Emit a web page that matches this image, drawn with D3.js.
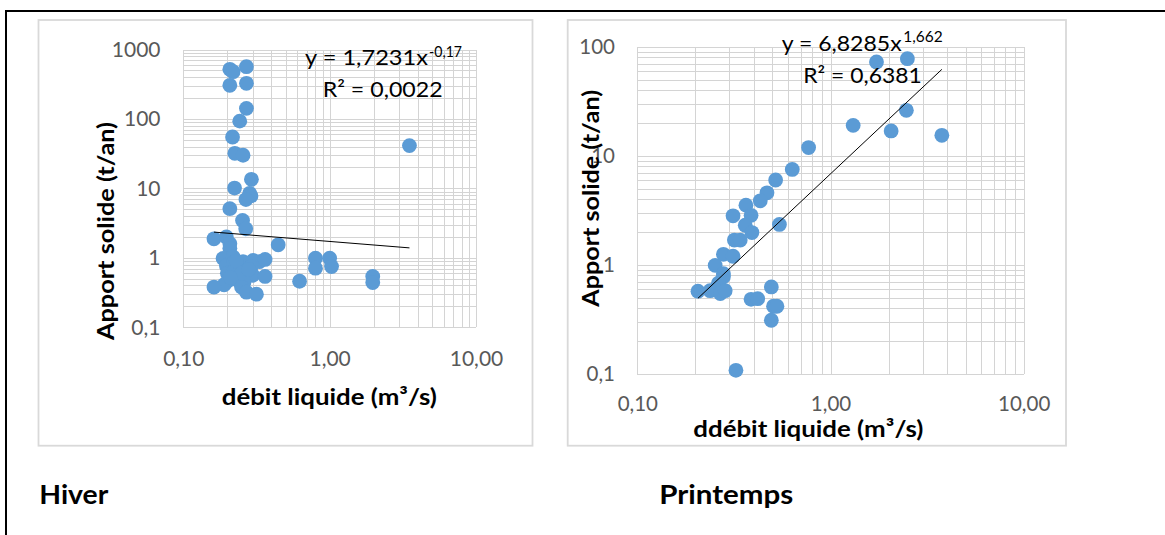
<!DOCTYPE html>
<html>
<head>
<meta charset="utf-8">
<script src="https://cdn.jsdelivr.net/npm/d3@7"></script>
<style>
  html, body { margin: 0; padding: 0; background: #fff; }
  svg { display: block; }
  text { font-family: Lato, "Open Sans", "Liberation Sans", sans-serif; }
</style>
</head>
<body>
<svg id="fig" width="1165" height="535"></svg>
<script>
// ---- Hiver : débit liquide (m³/s) et apport solide (t/an) ----
const hiverDebit = [
  0.208, 0.219, 0.27, 0.208, 0.27, 0.27, 0.243, 0.217, 0.225, 0.256,
  0.292, 0.224, 0.284, 0.29, 0.268, 0.208, 0.254, 0.267,
  0.162, 0.197, 0.208, 0.208, 0.445,
  0.187, 0.219, 0.256, 0.30, 0.33, 0.362, 0.197, 0.22, 0.24, 0.29,
  0.20, 0.219, 0.27, 0.298, 0.362, 0.237, 0.203, 0.26, 0.19, 0.162,
  0.25, 0.27, 0.316, 0.23, 0.25, 0.28, 0.21,
  0.623, 0.80, 1.0, 0.80, 1.03, 1.97, 1.97, 3.51
];
const hiverApport = [
  519, 479, 565, 305, 326, 142, 93, 55, 32, 30,
  13.5, 10.1, 8.5, 7.8, 6.9, 5.1, 3.45, 2.62,
  1.88, 2.0, 1.6, 1.37, 1.54,
  0.98, 1.03, 0.88, 0.92, 0.88, 0.95, 0.77, 0.85, 0.70, 0.74,
  0.60, 0.63, 0.56, 0.56, 0.54, 0.47, 0.47, 0.45, 0.41, 0.38,
  0.38, 0.32, 0.30, 0.90, 0.60, 0.68, 0.52,
  0.46, 0.99, 0.99, 0.71, 0.75, 0.54, 0.44, 41.3
];

// ---- Printemps ----
const printempsDebit = [
  1.73, 2.50, 2.47, 1.31, 2.06, 3.77, 0.77, 0.634, 0.52, 0.469,
  0.433, 0.365, 0.313, 0.388, 0.362, 0.392, 0.544, 0.318, 0.341, 0.279,
  0.313, 0.253, 0.279, 0.279, 0.263, 0.206, 0.238, 0.269, 0.285, 0.494,
  0.388, 0.42, 0.507, 0.528, 0.494, 0.324
];
const printempsApport = [
  72.4, 77.6, 26.1, 19.0, 16.9, 15.4, 11.9, 7.5, 6.0, 4.58,
  3.87, 3.53, 2.82, 2.85, 2.31, 1.98, 2.35, 1.69, 1.69, 1.25,
  1.20, 0.99, 0.83, 0.78, 0.68, 0.574, 0.58, 0.547, 0.58, 0.628,
  0.484, 0.49, 0.418, 0.418, 0.311, 0.108
];

// ---- Axis ticks and labels ----
const debitTicks = [0.1, 1, 10];
const debitTickLabels = ["0,10", "1,00", "10,00"];
const hiverApportTicks = [0.1, 1, 10, 100, 1000];
const hiverApportTickLabels = ["0,1", "1", "10", "100", "1000"];
const printempsApportTicks = [0.1, 1, 10, 100];
const printempsApportTickLabels = ["0,1", "1", "10", "100"];

// ---- Power-law trend lines y = a·x^b ----
const hiverFit = [1.7231, -0.17];
const printempsFit = [6.8285, 1.662];
const hiverEquation = ["y = 1,7231x", "-0,17", "R² = 0,0022"];
const printempsEquation = ["y = 6,8285x", "1,662", "R² = 0,6381"];

const panelTitles = ["Hiver", "Printemps"];
const xTitles = ["débit liquide (m³/s)", "ddébit liquide (m³/s)"];
const yTitle = "Apport solide (t/an)";

// ---- Layout ----
const svg = d3.select("#fig");
const GRID = "#d4d4d4";
const BLUE = "#5b9bd5";
const TICK = "#595959";

// outer frame (top and left edges)
svg.append("line").attr("x1", 6).attr("x2", 1165).attr("y1", 11).attr("y2", 11)
  .attr("stroke", "#000").attr("stroke-width", 2);
svg.append("line").attr("x1", 6).attr("x2", 6).attr("y1", 10).attr("y2", 535)
  .attr("stroke", "#000").attr("stroke-width", 2);

const panels = [
  {
    debit: hiverDebit, apport: hiverApport, fit: hiverFit, eq: hiverEquation,
    yTicks: hiverApportTicks, yLabels: hiverApportTickLabels, yDomain: [0.1, 1000],
    box: [38.5, 20, 494, 425.7],
    plot: { x0: 183.3, x1: 476, y0: 49.5, y1: 327.3 },
    yPad: 22.8, xPad: 23.5, tickSize: 21,
    xTitle: xTitles[0], xTitlePos: [329.3, 405, 215],
    yTitlePos: [113.5, 231, 218],
    eqPos: [[305, 65, 123], [429, 56.5, 33], [322.7, 97, 120]],
    caption: panelTitles[0], captionPos: [39.3, 504, 69]
  },
  {
    debit: printempsDebit, apport: printempsApport, fit: printempsFit, eq: printempsEquation,
    yTicks: printempsApportTicks, yLabels: printempsApportTickLabels, yDomain: [0.1, 100],
    box: [567.7, 20, 498.3, 425.7],
    plot: { x0: 637.3, x1: 1023.7, y0: 46.7, y1: 374 },
    yPad: 22.3, xPad: 22.5, tickSize: 20.5,
    xTitle: xTitles[1], xTitlePos: [808.3, 436.5, 230],
    yTitlePos: [598.5, 198.3, 216.7],
    eqPos: [[781.7, 51, 120], [903.3, 42.3, 39.4], [803.3, 83, 118.4]],
    caption: panelTitles[1], captionPos: [659.3, 504, 134]
  }
];

panels.forEach(p => {
  const g = svg.append("g");
  const [bx, by, bw, bh] = p.box;
  g.append("rect").attr("x", bx).attr("y", by).attr("width", bw).attr("height", bh)
    .attr("fill", "#fff").attr("stroke", "#d9d9d9").attr("stroke-width", 1.8);

  const x = d3.scaleLog().domain([0.1, 10]).range([p.plot.x0, p.plot.x1]);
  const y = d3.scaleLog().domain(p.yDomain).range([p.plot.y1, p.plot.y0]);
  const w = p.plot.x1 - p.plot.x0, h = p.plot.y1 - p.plot.y0;

  // log gridlines (1..9 per decade) on both axes
  const gx = g.append("g").attr("transform", `translate(0,${p.plot.y1})`)
    .call(d3.axisBottom(x).tickValues(x.ticks()).tickSize(-h).tickFormat(""));
  const gy = g.append("g").attr("transform", `translate(${p.plot.x0},0)`)
    .call(d3.axisLeft(y).tickValues(y.ticks()).tickSize(-w).tickFormat(""));
  [gx, gy].forEach(a => {
    a.select(".domain").remove();
    a.selectAll(".tick line").attr("stroke", GRID).attr("stroke-width", 1).attr("shape-rendering", "crispEdges");
  });

  // tick labels
  const lx = g.append("g").attr("transform", `translate(0,${p.plot.y1})`)
    .call(d3.axisBottom(x).tickValues(debitTicks).tickSize(0).tickPadding(p.xPad)
      .tickFormat((d, i) => debitTickLabels[i]));
  const ly = g.append("g").attr("transform", `translate(${p.plot.x0},0)`)
    .call(d3.axisLeft(y).tickValues(p.yTicks).tickSize(0).tickPadding(p.yPad)
      .tickFormat((d, i) => p.yLabels[i]));
  [lx, ly].forEach(a => {
    a.select(".domain").remove();
    a.selectAll("text").attr("fill", TICK).style("font-size", p.tickSize + "px")
      .style("font-family", "Lato, 'Open Sans', sans-serif");
  });

  // points
  g.append("g").selectAll("circle")
    .data(d3.zip(p.debit, p.apport))
    .join("circle")
    .attr("cx", d => x(d[0])).attr("cy", d => y(d[1])).attr("r", 7.4)
    .attr("fill", BLUE);

  // trend line over the range of the data
  const [a, b] = p.fit;
  const ext = d3.extent(p.debit);
  g.append("path")
    .datum(ext)
    .attr("d", d3.line().x(d => x(d)).y(d => y(a * Math.pow(d, b))))
    .attr("stroke", "#000").attr("stroke-width", 1).attr("fill", "none");

  // equation and R²
  const eqSizes = [22, 15.5, 22];
  p.eq.forEach((t, i) => {
    const [ex, ey, el] = p.eqPos[i];
    g.append("text").attr("x", ex).attr("y", ey).text(t)
      .attr("fill", "#000").style("font-size", eqSizes[i] + "px")
      .attr("textLength", el).attr("lengthAdjust", "spacingAndGlyphs");
  });

  // axis titles
  const [tx, ty, tl] = p.xTitlePos;
  g.append("text").attr("x", tx - tl / 2).attr("y", ty).text(p.xTitle)
    .attr("fill", "#000").style("font-size", "23.5px").style("font-weight", "bold")
    .attr("textLength", tl).attr("lengthAdjust", "spacingAndGlyphs");
  const [yx, yy, yl] = p.yTitlePos;
  g.append("text").attr("transform", `translate(${yx},${yy + yl / 2}) rotate(-90)`)
    .text(yTitle).attr("fill", "#000").style("font-size", "23.5px").style("font-weight", "bold")
    .attr("textLength", yl).attr("lengthAdjust", "spacingAndGlyphs");

  // season caption
  const [cx, cy, cl] = p.captionPos;
  svg.append("text").attr("x", cx).attr("y", cy).text(p.caption)
    .attr("fill", "#000").style("font-size", "27px").style("font-weight", "bold")
    .attr("textLength", cl).attr("lengthAdjust", "spacingAndGlyphs");
});
</script>
</body>
</html>
